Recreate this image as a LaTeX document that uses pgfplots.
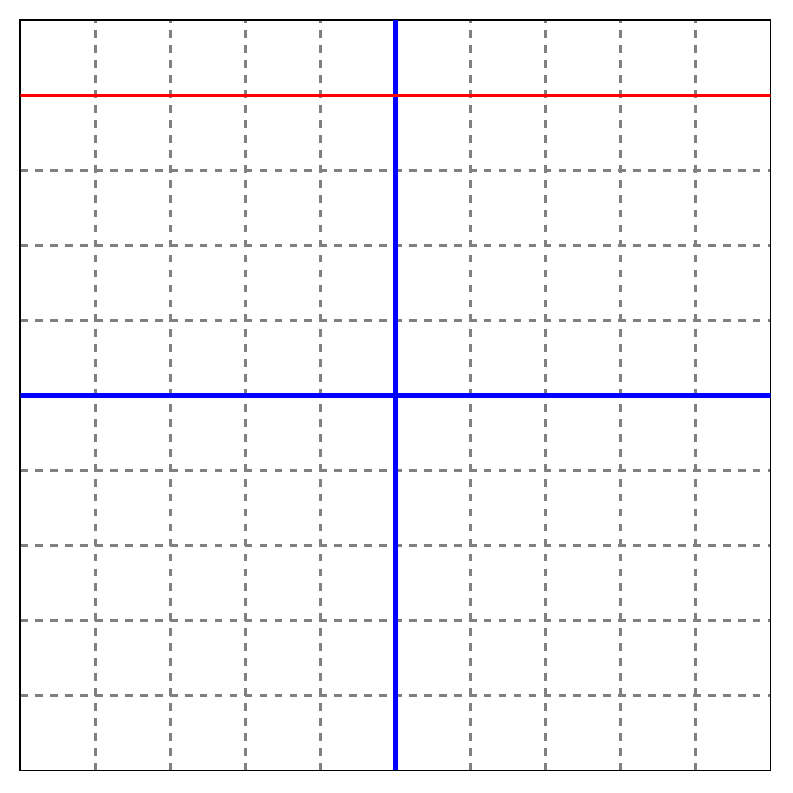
\documentclass[border=0pt]{standalone}
\usepackage{pgfplots}
\pgfplotsset{compat=1.18}
\definecolor{gridgray}{HTML}{808080}
\begin{document}
\begin{tikzpicture}
\begin{axis}[
  scale only axis, width=10cm, height=10cm,
  xmin=-5, xmax=5, ymin=-5, ymax=5,
  xtick={-4,...,4}, ytick={-4,...,4},
  xticklabels={}, yticklabels={},
  major tick length=0pt,
  grid=major,
  major grid style={gridgray, line width=0.85pt, dash pattern=on 2.9pt off 2.77pt},
  axis line style={black, line width=0.75pt},
  clip=true,
]
\addplot[blue, line width=1.7pt] coordinates {(-5,0) (5,0)};
\addplot[blue, line width=1.7pt] coordinates {(0,-5) (0,5)};
\addplot[red, line width=1pt] coordinates {(-5,4) (5,4)};
\end{axis}
\path (-0.273cm,-0.3cm) rectangle (10.3cm,10.273cm);
\end{tikzpicture}
\end{document}
